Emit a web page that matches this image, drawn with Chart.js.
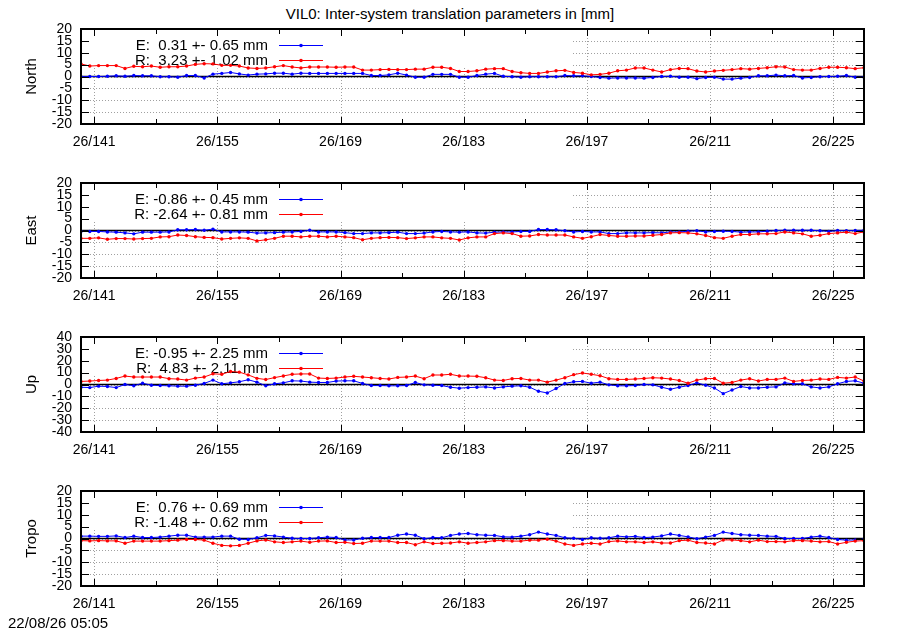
<!DOCTYPE html>
<html>
<head>
<meta charset="utf-8">
<title>VIL0 translation parameters</title>
<script src="https://cdn.jsdelivr.net/npm/chart.js@4.4.0/dist/chart.umd.min.js"></script>
<style>
  body { margin: 0; background: #fff; }
  #wrap { position: relative; width: 900px; height: 630px; font-family: "Liberation Sans", Arial, sans-serif; color: #000; }
  #title { position: absolute; left: 0; top: 5px; width: 900px; text-align: center; font-size: 15px; }
  #stamp { position: absolute; left: 8px; top: 614px; font-size: 15px; }
  .panel { position: absolute; left: 0; width: 900px; height: 140px; }
</style>
</head>
<body>
<div id="wrap">
  <div id="title">VIL0: Inter-system translation parameters in [mm]</div>
  <div class="panel" style="top:17px"><canvas id="north" width="900" height="140"></canvas></div>
  <div class="panel" style="top:171px"><canvas id="east" width="900" height="140"></canvas></div>
  <div class="panel" style="top:325px"><canvas id="up" width="900" height="140"></canvas></div>
  <div class="panel" style="top:479px"><canvas id="tropo" width="900" height="140"></canvas></div>
  <div id="stamp">22/08/26 05:05</div>
</div>
<script>
// day of year (2026), one solution per day
const days = [
  139.5, 140.5, 141.5, 142.5, 143.5, 144.5, 145.5, 146.5, 147.5, 148.5,
  149.5, 150.5, 151.5, 152.5, 153.5, 154.5, 155.5, 156.5, 157.5, 158.5,
  159.5, 160.5, 161.5, 162.5, 163.5, 164.5, 165.5, 166.5, 167.5, 168.5,
  169.5, 170.5, 171.5, 172.5, 173.5, 174.5, 175.5, 176.5, 177.5, 178.5,
  179.5, 180.5, 181.5, 182.5, 183.5, 184.5, 185.5, 186.5, 187.5, 188.5,
  189.5, 190.5, 191.5, 192.5, 193.5, 194.5, 195.5, 196.5, 197.5, 198.5,
  199.5, 200.5, 201.5, 202.5, 203.5, 204.5, 205.5, 206.5, 207.5, 208.5,
  209.5, 210.5, 211.5, 212.5, 213.5, 214.5, 215.5, 216.5, 217.5, 218.5,
  219.5, 220.5, 221.5, 222.5, 223.5, 224.5, 225.5, 226.5, 227.5, 228.5
];
const xTicks = [141, 155, 169, 183, 197, 211, 225];
const xMinorTicks = [148, 162, 176, 190, 204, 218];
const ticks20 = [-20, -15, -10, -5, 0, 5, 10, 15, 20];
const ticks40 = [-40, -30, -20, -10, 0, 10, 20, 30, 40];

const northE = [
  -0.1, 0.0, 0.0, 0.1, 0.3, 0.1, 0.4, 0.3, 0.3, -0.1,
  -0.1, -0.3, 0.4, 0.4, -0.6, 1.0, 1.3, 1.7, 1.1, 0.6,
  1.0, 1.1, 1.4, 1.4, 1.0, 1.4, 1.3, 1.3, 1.3, 1.3,
  1.3, 1.3, 1.3, 0.4, 0.4, 0.7, 1.4, 0.6, -0.3, -0.3,
  0.9, 0.9, 0.9, -0.3, -0.3, 0.4, 1.0, 1.3, 0.1, -0.1,
  -0.3, -0.1, -0.1, -0.1, -0.1, 0.4, 0.3, 0.3, 0.0, -0.4,
  -0.7, -0.6, -0.6, -0.6, -0.7, -0.4, 0.0, 0.1, -0.3, -0.3,
  -0.9, -0.4, -0.3, -1.1, -1.1, -0.7, -0.4, 0.3, 0.3, 0.6,
  0.3, 0.4, -0.6, -0.4, -0.1, 0.0, 0.1, 0.4, -0.3, -0.3
];
const northR = [
  5.3, 4.4, 4.6, 4.6, 4.6, 3.4, 4.3, 4.1, 4.4, 3.9,
  4.1, 4.1, 4.4, 5.1, 5.4, 5.3, 4.7, 4.7, 4.4, 3.6,
  3.4, 3.6, 4.1, 4.6, 4.0, 3.6, 4.0, 4.0, 4.0, 3.9,
  4.0, 4.0, 2.7, 2.7, 2.9, 3.0, 2.9, 2.9, 3.1, 3.1,
  3.9, 3.9, 3.4, 2.1, 2.1, 2.4, 3.1, 3.3, 3.3, 2.1,
  1.6, 1.3, 1.3, 1.9, 2.4, 2.6, 1.7, 1.4, 0.7, 0.9,
  1.4, 2.4, 2.7, 3.6, 3.6, 2.7, 1.9, 2.9, 3.4, 3.3,
  2.3, 1.9, 2.3, 2.6, 2.9, 3.3, 3.1, 3.4, 3.7, 4.1,
  4.0, 2.9, 2.7, 2.7, 3.4, 3.9, 3.9, 3.7, 3.3, 3.7
];
const eastE = [
  -0.4, -0.4, -0.4, -0.6, -0.7, -1.0, -1.4, -0.7, -0.7, -0.7,
  -0.6, 0.3, 0.3, 0.4, 0.1, 0.6, -0.6, -0.6, -0.6, -0.7,
  -1.1, -1.0, -0.9, -0.7, -0.6, -0.4, 0.1, -0.6, -0.6, -0.6,
  -0.9, -1.3, -1.3, -1.0, -1.0, -0.9, -0.7, -1.3, -1.3, -1.1,
  -0.6, -0.4, -0.6, -0.7, -0.6, -1.0, -1.1, -0.7, -0.6, -0.6,
  -0.4, -0.4, 0.4, 0.4, 0.3, -0.1, -0.6, -0.4, -0.6, -0.6,
  -1.3, -1.3, -1.0, -1.0, -1.0, -0.9, -1.0, -0.6, -0.6, -0.3,
  -0.1, -0.6, -0.4, -0.3, -0.4, -0.7, -0.6, -0.6, -0.3, 0.0,
  0.1, 0.1, 0.1, 0.1, -0.1, -0.4, 0.0, -0.1, 0.0, 0.1
];
const eastR = [
  -3.3, -3.3, -3.1, -3.7, -3.4, -3.4, -3.6, -3.4, -3.3, -2.7,
  -2.6, -1.9, -2.1, -2.6, -2.9, -3.0, -3.6, -3.3, -3.1, -3.3,
  -4.4, -3.9, -3.3, -2.4, -2.4, -2.7, -2.4, -2.4, -2.7, -2.4,
  -2.7, -3.0, -3.9, -3.3, -3.0, -2.9, -3.0, -3.4, -3.1, -2.7,
  -2.7, -3.1, -3.3, -4.0, -3.1, -2.7, -2.7, -1.3, -1.0, -1.3,
  -2.4, -2.3, -1.7, -1.9, -1.9, -1.9, -2.7, -3.3, -2.6, -1.7,
  -2.1, -2.4, -2.4, -2.3, -2.3, -2.0, -1.7, -1.0, -0.9, -1.0,
  -1.4, -2.1, -3.0, -3.3, -2.4, -1.7, -1.7, -1.4, -1.4, -1.3,
  -0.6, -1.0, -1.4, -2.4, -2.0, -1.3, -1.0, -0.7, -1.3, -0.6
];
const upE = [
  -2.3, -2.6, -1.4, -1.7, -2.6, 0.0, -1.1, 1.1, -0.6, -0.9,
  -1.1, -1.4, -1.4, -0.6, 0.9, 3.7, 0.6, 1.4, 2.3, 4.0,
  2.0, -1.1, 0.6, 1.4, 3.1, 2.9, 2.0, 1.7, 1.7, 2.9,
  3.1, 3.1, 0.9, -0.9, -0.9, -1.1, -1.1, -0.9, 1.7, -0.3,
  -0.6, -0.9, -2.3, -3.1, -2.6, -2.3, -2.0, -2.9, -2.0, -1.4,
  -1.1, -2.3, -5.7, -7.1, -3.4, 0.9, 2.3, 2.6, 1.1, 2.0,
  -0.3, -1.1, -1.1, -0.9, 0.0, -0.3, -2.3, -4.0, -2.3, -0.9,
  1.4, -0.6, -2.9, -7.7, -4.6, -1.7, -2.9, -2.9, -2.3, -2.0,
  1.4, 0.6, 0.6, -2.0, -2.9, -2.0, 0.6, 2.6, 3.1, 1.1
];
const upR = [
  2.6, 2.9, 3.4, 3.7, 5.1, 7.1, 6.3, 6.3, 6.3, 6.3,
  4.9, 4.6, 3.7, 5.4, 6.3, 9.0, 8.6, 11.0, 10.4, 8.1,
  5.2, 4.2, 5.8, 7.2, 8.6, 8.9, 8.9, 5.4, 5.1, 5.4,
  6.3, 6.9, 6.3, 5.7, 5.1, 4.6, 6.0, 6.3, 7.1, 4.9,
  8.0, 8.0, 8.6, 7.1, 7.1, 6.9, 5.7, 3.7, 3.4, 4.9,
  5.1, 3.7, 3.7, 2.0, 3.7, 5.7, 8.3, 9.7, 8.6, 7.4,
  4.9, 4.3, 4.3, 4.6, 5.1, 5.7, 5.4, 4.6, 3.4, 1.1,
  3.7, 4.9, 5.1, 1.1, 1.7, 3.7, 4.9, 2.9, 4.3, 4.3,
  5.4, 2.6, 3.4, 3.7, 4.6, 4.3, 6.0, 5.4, 6.3, 2.9
];
const tropoE = [
  1.0, 1.0, 0.9, 0.9, 1.1, 0.4, 1.0, 0.4, 0.4, 0.6,
  1.0, 1.4, 1.4, 0.6, 0.6, 0.6, 1.0, 1.0, -0.3, -0.4,
  0.3, 1.3, 1.1, 0.6, 0.1, 0.0, 0.0, 0.3, 0.6, 0.4,
  -0.6, -0.6, 0.1, 0.4, 0.4, 0.4, 1.4, 1.9, 1.4, -0.1,
  0.4, 0.3, 1.3, 1.9, 2.1, 1.6, 1.4, 1.3, 0.7, 0.6,
  1.0, 1.6, 2.7, 1.9, 1.3, 0.3, 0.1, -0.4, 0.3, 0.1,
  0.3, 1.0, 0.7, 0.9, 0.4, 0.6, 1.1, 1.9, 1.3, 0.7,
  -0.1, 0.6, 1.3, 2.7, 2.1, 1.6, 1.4, 1.3, 1.0, 0.9,
  0.0, 0.0, 0.0, 0.6, 1.0, 0.4, -0.4, -0.7, -0.6, -0.3
];
const tropoR = [
  -0.9, -1.0, -0.9, -1.0, -1.0, -2.0, -1.1, -1.1, -1.1, -1.1,
  -0.9, -0.7, -0.4, -0.4, -0.7, -2.0, -2.9, -3.1, -2.9, -2.0,
  -1.0, -0.6, -1.4, -1.7, -1.4, -1.1, -1.6, -1.1, -1.0, -1.7,
  -1.6, -2.1, -2.0, -1.1, -1.1, -1.1, -1.7, -1.7, -2.6, -1.4,
  -2.1, -2.0, -1.9, -1.4, -2.0, -1.7, -1.4, -0.9, -0.9, -1.1,
  -1.1, -0.7, -0.7, -0.3, -1.1, -2.3, -2.9, -2.3, -2.0, -2.3,
  -1.3, -1.0, -1.4, -1.4, -1.7, -1.4, -1.9, -1.9, -0.9, -0.7,
  -1.7, -1.9, -2.3, -0.6, -0.6, -0.9, -1.4, -0.7, -1.3, -1.3,
  -1.4, -0.9, -0.9, -1.1, -1.4, -1.3, -2.3, -1.6, -1.1, -0.9
];

const FONT = '"Liberation Sans", Arial, sans-serif';
const BLUE = '#0000ff';
const RED = '#ff0000';

// gnuplot look: dotted grid, opaque key, zero axis, heavy border with inward tics
const gnuplotFrame = {
  id: 'gnuplotFrame',
  beforeDatasetsDraw(chart) {
    const { ctx, chartArea: a, scales: { x, y } } = chart;
    const o = chart.options.plugins.gnuplotFrame;
    ctx.save();
    ctx.strokeStyle = '#a0a0a0';
    ctx.lineWidth = 1;
    ctx.setLineDash([1, 2]);
    ctx.beginPath();
    xTicks.forEach(v => {
      const px = Math.round(x.getPixelForValue(v)) + 0.5;
      ctx.moveTo(px, a.top); ctx.lineTo(px, a.bottom);
    });
    o.yTicks.forEach(v => {
      const py = Math.round(y.getPixelForValue(v)) + 0.5;
      ctx.moveTo(a.left, py); ctx.lineTo(a.right, py);
    });
    ctx.stroke();
    ctx.setLineDash([]);

    // key box hides the grid behind it
    ctx.fillStyle = '#fff';
    ctx.fillRect(a.left, a.top, 572 - a.left, 39);

    // zero axis
    const y0 = y.getPixelForValue(0);
    ctx.strokeStyle = '#000';
    ctx.lineWidth = 1.6;
    ctx.beginPath();
    ctx.moveTo(a.left, y0); ctx.lineTo(a.right, y0);
    ctx.stroke();

    // key
    ctx.font = '15px ' + FONT;
    ctx.textAlign = 'right';
    ctx.textBaseline = 'middle';
    o.keys.forEach((k, i) => {
      const ky = a.top + 16.5 + i * 15;
      ctx.fillStyle = '#000';
      ctx.fillText(k.text, 268, ky);
      ctx.strokeStyle = k.color;
      ctx.lineWidth = 1;
      ctx.beginPath();
      ctx.moveTo(279, ky); ctx.lineTo(323, ky);
      ctx.stroke();
      ctx.fillStyle = k.color;
      ctx.beginPath();
      ctx.arc(301, ky, 1.8, 0, Math.PI * 2);
      ctx.fill();
    });
    ctx.restore();
  },
  afterDraw(chart) {
    const { ctx, chartArea: a, scales: { x, y } } = chart;
    const o = chart.options.plugins.gnuplotFrame;
    ctx.save();
    ctx.strokeStyle = '#000';
    ctx.lineWidth = 1;
    ctx.beginPath();
    xTicks.forEach(v => {
      const px = Math.round(x.getPixelForValue(v)) + 0.5;
      ctx.moveTo(px, a.top); ctx.lineTo(px, a.top + 7);
      ctx.moveTo(px, a.bottom); ctx.lineTo(px, a.bottom - 7);
    });
    xMinorTicks.forEach(v => {
      const px = Math.round(x.getPixelForValue(v)) + 0.5;
      ctx.moveTo(px, a.top); ctx.lineTo(px, a.top + 5);
      ctx.moveTo(px, a.bottom); ctx.lineTo(px, a.bottom - 5);
    });
    o.yTicks.forEach(v => {
      const py = Math.round(y.getPixelForValue(v)) + 0.5;
      ctx.moveTo(a.left, py); ctx.lineTo(a.left + 8, py);
      ctx.moveTo(a.right, py); ctx.lineTo(a.right - 8, py);
    });
    ctx.stroke();
    ctx.lineWidth = 2;
    ctx.strokeRect(a.left, a.top, a.right - a.left, a.bottom - a.top);
    ctx.restore();
  }
};

function series(vals) {
  return days.map((d, i) => ({ x: d, y: vals[i] }));
}

function makePanel(id, name, eVals, rVals, yTicks, keyE, keyR) {
  const yMax = yTicks[yTicks.length - 1];
  new Chart(document.getElementById(id), {
    type: 'line',
    data: {
      datasets: [
        { label: 'E', data: series(eVals), borderColor: BLUE, backgroundColor: BLUE,
          borderWidth: 1, pointRadius: 1.7, pointBorderWidth: 0, tension: 0, order: 1 },
        { label: 'R', data: series(rVals), borderColor: RED, backgroundColor: RED,
          borderWidth: 1, pointRadius: 1.7, pointBorderWidth: 0, tension: 0, order: 0 }
      ]
    },
    options: {
      responsive: false,
      animation: false,
      events: [],
      layout: { padding: { top: 12, right: 36, left: 0, bottom: 0 } },
      plugins: {
        legend: { display: false },
        tooltip: { enabled: false },
        gnuplotFrame: {
          yTicks: yTicks,
          keys: [{ text: keyE, color: BLUE }, { text: keyR, color: RED }]
        }
      },
      scales: {
        x: {
          type: 'linear', min: 139.5, max: 228.5,
          grid: { display: false }, border: { display: false },
          afterBuildTicks: s => { s.ticks = xTicks.map(v => ({ value: v })); },
          afterFit: s => { s.height = 33; },
          ticks: { callback: v => '26/' + v, color: '#000', padding: 2,
                   maxRotation: 0, autoSkip: false, font: { family: FONT, size: 14 } }
        },
        y: {
          min: -yMax, max: yMax,
          grid: { display: false }, border: { display: false },
          afterBuildTicks: s => { s.ticks = yTicks.map(v => ({ value: v })); },
          afterFit: s => { s.width = 81; },
          ticks: { color: '#000', padding: 1, autoSkip: false, font: { family: FONT, size: 14 } },
          title: { display: true, text: name, color: '#000', padding: { top: 23 },
                   font: { family: FONT, size: 15, lineHeight: 1.2 } }
        }
      }
    },
    plugins: [gnuplotFrame]
  });
}

makePanel('north', 'North', northE, northR, ticks20, 'E:  0.31 +- 0.65 mm', 'R:  3.23 +- 1.02 mm');
makePanel('east', 'East', eastE, eastR, ticks20, 'E: -0.86 +- 0.45 mm', 'R: -2.64 +- 0.81 mm');
makePanel('up', 'Up', upE, upR, ticks40, 'E: -0.95 +- 2.25 mm', 'R:  4.83 +- 2.11 mm');
makePanel('tropo', 'Tropo', tropoE, tropoR, ticks20, 'E:  0.76 +- 0.69 mm', 'R: -1.48 +- 0.62 mm');
</script>
</body>
</html>
